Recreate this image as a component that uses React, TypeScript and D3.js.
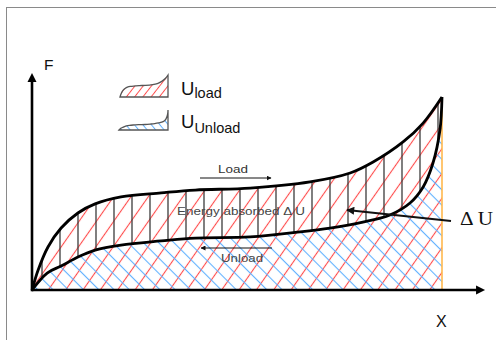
import React from 'react';
import * as d3 from 'd3';

const W = 496;
const H = 340;

// Load curve (displacement X, force F) in arbitrary units 0..100
const loadX = [0, 1.5, 3.9, 7.1, 11.2, 15.4, 21.7, 31.5, 39.8, 53.2, 67.8, 77.6, 83.2, 90.5, 95.4, 100];
const loadF = [0, 10.4, 22.3, 32.1, 39.9, 44.6, 48.2, 50.3, 51.8, 52.8, 56.0, 60.6, 66.3, 76.7, 86.5, 100];
// Unload curve, listed from origin to the peak
const unloadX = [0, 3.7, 7.1, 11.2, 15.4, 21.7, 31.5, 39.8, 53.2, 65.4, 72.7, 80.7, 87.3, 92.2, 95.4, 97.8, 99.5, 100];
const unloadF = [0, 8.8, 12.4, 17.1, 20.7, 23.3, 25.4, 26.9, 27.5, 30.1, 32.1, 35.2, 38.9, 45.1, 53.4, 65.8, 82.9, 100];

const axisMaxX = 110.5;
const axisMaxF = 112.5;

const axisLabels = { x: 'X', y: 'F' };
const legendLabels = [
  { main: 'U', sub: 'load' },
  { main: 'U', sub: 'Unload' },
];
const annotations = {
  load: 'Load',
  unload: 'Unload',
  energy: 'Energy absorbed \u0394 U',
  delta: '\u0394 U',
};

const SANS = '"Liberation Sans", Arial, sans-serif';
const SERIF = '"Liberation Serif", "Times New Roman", serif';
const RED = '#ff4b4b';
const BLUE = '#5fb0ff';

type P = [number, number];

export default function App() {
  const x = d3.scaleLinear().domain([0, 100]).range([32, 442]);
  const y = d3.scaleLinear().domain([0, 100]).range([290, 97]);

  const loadPts: P[] = loadX.map((v, i) => [v, loadF[i]]);
  const unloadPts: P[] = unloadX.map((v, i) => [v, unloadF[i]]);

  const mkLine = (sx: d3.ScaleLinear<number, number>, sy: d3.ScaleLinear<number, number>) =>
    d3
      .line<P>()
      .x((d) => sx(d[0]))
      .y((d) => sy(d[1]))
      .curve(d3.curveCatmullRom.alpha(0.5));

  const line = mkLine(x, y);
  const loadPath = line(loadPts) as string;
  const unloadPath = line(unloadPts) as string;
  const base = `L${x(100)},${y(0)}Z`;
  const loadArea = loadPath + base;
  const unloadArea = unloadPath + base;
  const hyst = loadPath + (line(unloadPts.slice().reverse()) as string).replace(/^M/, 'L') + 'Z';

  // legend icons
  const lx1 = d3.scaleLinear().domain([0, 100]).range([120, 168]);
  const ly1 = d3.scaleLinear().domain([0, 100]).range([97, 75]);
  const lx2 = d3.scaleLinear().domain([0, 100]).range([119, 168]);
  const ly2 = d3.scaleLinear().domain([0, 100]).range([130, 110]);
  const icon1 = (mkLine(lx1, ly1)(loadPts) as string) + `L${lx1(100)},${ly1(0)}Z`;
  const icon2 = (mkLine(lx2, ly2)(unloadPts) as string) + `L${lx2(100)},${ly2(0)}Z`;

  const x0 = x(0), y0 = y(0);
  const xEnd = x(axisMaxX), yEnd = y(axisMaxF);

  return (
    <svg
      width={W}
      height={H}
      viewBox={`0 0 ${W} ${H}`}
      style={{ position: 'absolute', left: 0, top: 0, background: '#fff' }}
    >
      <defs>
        <pattern id="red" patternUnits="userSpaceOnUse" width={14.2} height={14.2} patternTransform="rotate(35)">
          <line x1={7.1} y1={0} x2={7.1} y2={14.2} stroke={RED} strokeWidth={1.1} />
        </pattern>
        <pattern id="blue" patternUnits="userSpaceOnUse" width={10.8} height={10.8} patternTransform="rotate(-45)">
          <line x1={5.4} y1={0} x2={5.4} y2={10.8} stroke={BLUE} strokeWidth={1.1} />
        </pattern>
        <pattern id="vert" patternUnits="userSpaceOnUse" x={51} y={0} width={18} height={10}>
          <line x1={9} y1={0} x2={9} y2={10} stroke="#3a3a3a" strokeWidth={1.3} />
        </pattern>
        <pattern id="redS" patternUnits="userSpaceOnUse" width={6.5} height={6.5} patternTransform="rotate(38)">
          <line x1={3.25} y1={0} x2={3.25} y2={6.5} stroke={RED} strokeWidth={1} />
        </pattern>
        <pattern id="blueS" patternUnits="userSpaceOnUse" width={6.5} height={6.5} patternTransform="rotate(-40)">
          <line x1={3.25} y1={0} x2={3.25} y2={6.5} stroke={BLUE} strokeWidth={1} />
        </pattern>
        <marker id="arr" viewBox="0 0 10 10" refX={9} refY={5} markerWidth={5} markerHeight={5} orient="auto-start-reverse" markerUnits="userSpaceOnUse">
          <path d="M0,0L10,5L0,10Z" fill="#111" />
        </marker>
        <marker id="arrBig" viewBox="0 0 10 10" refX={9} refY={5} markerWidth={10} markerHeight={8} orient="auto" markerUnits="userSpaceOnUse">
          <path d="M0,0L10,5L0,10Z" fill="#111" />
        </marker>
      </defs>

      {/* frame */}
      <rect x={6.5} y={7.5} width={520} height={400} fill="none" stroke="#8a8a8a" strokeWidth={1} />

      {/* hatching */}
      <path d={loadArea} fill="url(#red)" />
      <path d={unloadArea} fill="url(#blue)" />
      <path d={hyst} fill="url(#vert)" />

      {/* orange boundary */}
      <line x1={x(100)} y1={y(100)} x2={x(100)} y2={y0} stroke="#ffb84d" strokeWidth={1.6} />

      {/* curves */}
      <path d={loadPath} fill="none" stroke="#000" strokeWidth={2.8} strokeLinejoin="round" />
      <path d={unloadPath} fill="none" stroke="#000" strokeWidth={2.8} strokeLinejoin="round" />

      {/* axes */}
      <line x1={x0} y1={y0} x2={xEnd - 7} y2={y0} stroke="#000" strokeWidth={2.6} />
      <path d={`M${xEnd},${y0}L${xEnd - 9},${y0 - 4.5}L${xEnd - 9},${y0 + 4.5}Z`} fill="#000" />
      <line x1={x0} y1={y0 + 1.3} x2={x0} y2={yEnd + 7} stroke="#000" strokeWidth={2.6} />
      <path d={`M${x0},${yEnd}L${x0 - 4.5},${yEnd + 9}L${x0 + 4.5},${yEnd + 9}Z`} fill="#000" />
      <text x={44} y={70} fontFamily={SANS} fontSize={15.5} fill="#111">{axisLabels.y}</text>
      <text x={436} y={327} fontFamily={SANS} fontSize={16} fill="#111">{axisLabels.x}</text>

      {/* legend */}
      <path d={icon1} fill="url(#redS)" stroke="#555" strokeWidth={1.3} />
      <path d={icon2} fill="url(#blueS)" stroke="#555" strokeWidth={1.3} />
      <text x={181} y={95} fontFamily={SANS} fontSize={18.5} fill="#111">
        {legendLabels[0].main}
        <tspan fontSize={14.5} dy={3}>{legendLabels[0].sub}</tspan>
      </text>
      <text x={181} y={128} fontFamily={SANS} fontSize={18.5} fill="#111">
        {legendLabels[1].main}
        <tspan fontSize={14.5} dy={5}>{legendLabels[1].sub}</tspan>
      </text>

      {/* annotations */}
      <text x={218} y={173} fontFamily={SANS} fontSize={11} textLength={30} lengthAdjust="spacingAndGlyphs" fill="#333">
        {annotations.load}
      </text>
      <line x1={200} y1={178} x2={271} y2={178} stroke="#111" strokeWidth={1} markerEnd="url(#arr)" />
      <line x1={272} y1={248} x2={201} y2={248} stroke="#111" strokeWidth={1} markerEnd="url(#arr)" />
      <text x={221} y={262} fontFamily={SANS} fontSize={11} textLength={42} lengthAdjust="spacingAndGlyphs" fill="#444">
        {annotations.unload}
      </text>
      <text x={177} y={215} fontFamily={SANS} fontSize={11} textLength={128} lengthAdjust="spacingAndGlyphs" fill="#444">
        {annotations.energy}
      </text>
      <line x1={451} y1={221} x2={347} y2={210} stroke="#111" strokeWidth={2} markerEnd="url(#arrBig)" />
      <text x={460} y={225} fontFamily={SERIF} fontSize={18} textLength={33} lengthAdjust="spacingAndGlyphs" fill="#111">
        {annotations.delta}
      </text>
    </svg>
  );
}
